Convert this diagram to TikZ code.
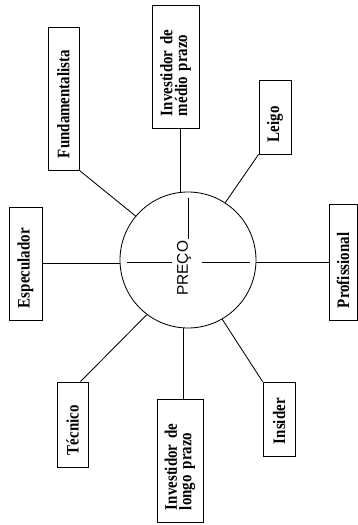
\documentclass[tikz,border=0pt]{standalone}
\usepackage{fontspec}
\setmainfont{Liberation Serif}
\newfontfamily\boxfont[FakeStretch=0.85]{Liberation Serif}
\newfontfamily\precofont{Liberation Sans}

\begin{document}
\begin{tikzpicture}[
          ag/.style={rectangle, draw, rotate=90, line width=0.6pt,
                     inner xsep=0.3cm, inner ysep=0pt, align=left,
                     font=\boxfont\bfseries\fontsize{12.5}{10.4}\selectfont},
          ln/.style={line width=0.6pt}
        ]
        \useasboundingbox (-4.7,-6.625) rectangle (4.25,6.5);

        \node[circle, draw, line width=0.6pt, minimum size=3.4cm] (preco) at (0,0) {};
        \node[rotate=90, inner sep=1pt, font=\precofont\fontsize{11}{12}\selectfont]
              (precotxt) at (-0.1,-0.21) {PREÇO};

        \draw[ln] (0,0.525)      -- (0,1.55);
        \draw[ln] (-1.525,-0.06) -- (-0.4,-0.06);
        \draw[ln] (0.35,-0.06)   -- (1.55,-0.06);

        \node[ag, text width=2.975cm, minimum height=0.775cm]
              (fund)    at (-3.1125, 4.0375) {Fundamentalista};
        \node[ag, text width=2.475cm, minimum height=1.175cm]
              (medio)   at (-0.3125, 4.8375) {Investidor de\\médio prazo};
        \node[ag, text width=1.25cm,  minimum height=0.8cm]
              (leigo)   at (2.175, 3.575)    {Leigo};
        \node[ag, text width=2.225cm, minimum height=0.825cm]
              (espec)   at (-4.0625, -0.0875) {Especulador};
        \node[ag, text width=2.3cm,   minimum height=0.7cm]
              (prof)    at (3.875, -0.05)    {Profissional};
        \node[ag, text width=1.525cm, minimum height=0.775cm]
              (tecnico) at (-2.8875, -4.1125) {Técnico};
        \node[ag, text width=2.475cm, minimum height=1.15cm]
              (longo)   at (-0.2, -5.0125)   {Investidor de\\longo prazo};
        \node[ag, text width=1.25cm,  minimum height=0.8cm]
              (insider) at (2.275, -3.975)   {Insider};

        \draw[ln] (fund.south west)           -- (preco.140);
        \draw[ln] (preco.96)                  -- (preco.96 |- medio.west);
        \draw[ln] (leigo.north west)          -- (preco.57);
        \draw[ln] (espec.south)               -- (espec.south -| preco.west);
        \draw[ln] (prof.north)                -- (prof.north -| preco.east);
        \draw[ln] ([xshift=0.2cm]tecnico.east) -- (preco.233);
        \draw[ln] (preco.266)                 -- (preco.266 |- longo.east);
        \draw[ln] (insider.north east)        -- (preco.300);
      \end{tikzpicture}
\end{document}
